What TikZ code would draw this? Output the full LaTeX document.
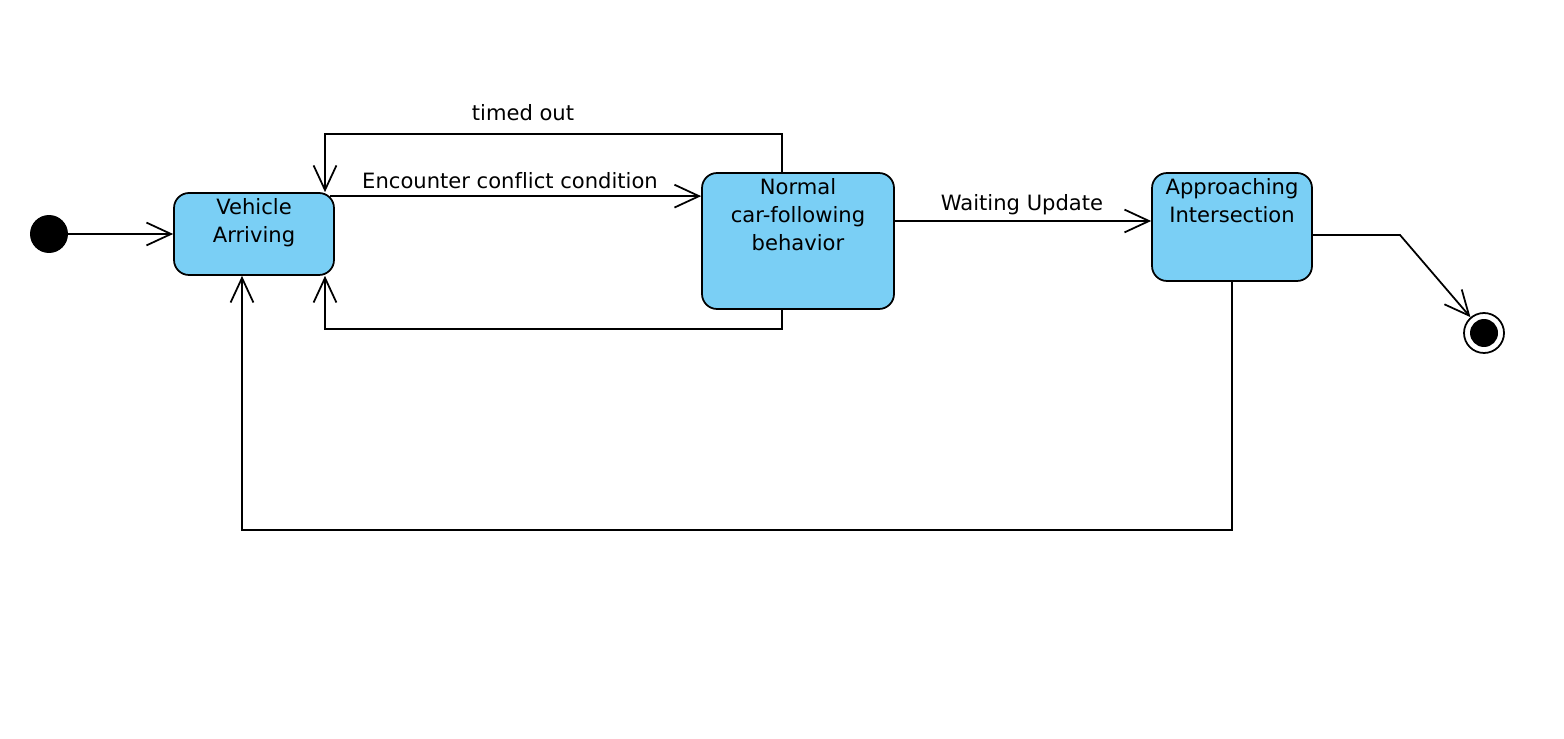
\documentclass[tikz,border=0pt]{standalone}
\usepackage{fontspec}
\setmainfont{DejaVu Sans}[Ligatures=NoCommon]
\usetikzlibrary{arrows.meta}

\definecolor{stfill}{RGB}{122,207,245}
\tikzset{
  state/.style={draw,line width=1pt,fill=stfill,rounded corners=0.3cm,inner sep=0pt},
  stname/.style={anchor=north,align=center,inner sep=0pt,yshift=-0.12cm},
  trans/.style={draw,line width=1pt,-{Straight Barb[length=14pt,width=13pt]}},
}

\begin{document}
\begin{tikzpicture}[x=0.02cm,y=-0.02cm,every node/.style={font=\fontsize{12}{16}\selectfont}]
\useasboundingbox (0,0) rectangle (1564,739);
% states
\node[state,minimum width=3.2cm,minimum height=1.64cm] (va) at (254,234) {};
\node[state,minimum width=3.84cm,minimum height=2.72cm] (nc) at (798,241) {};
\node[state,minimum width=3.2cm,minimum height=2.16cm] (ai) at (1232,227) {};
\node[stname] (va-t) at (va.north) {Vehicle\\Arriving};
\node[stname] (nc-t) at (nc.north) {Normal\\car-following\\behavior};
\node[stname] (ai-t) at (ai.north) {Approaching\\Intersection};
% start and end
\node[circle,fill=black,minimum size=0.76cm,inner sep=0pt] (ini) at (49,234) {};
\node[circle,draw,line width=1pt,minimum size=0.8cm,inner sep=0pt] (fin) at (1484,333) {};
\fill (fin) circle (0.28cm);
% bend points
\coordinate (to1) at (782,134);
\coordinate (to2) at (325,134);
\coordinate (bl1) at (782,329);
\coordinate (bl2) at (325,329);
\coordinate (wu) at (1022,221);
\coordinate (fb) at (1400,235);
\coordinate (lp1) at (1232,530);
\coordinate (lp2) at (242,530);
\coordinate (encs) at ([shift={(-5,4)}]va.north east);
% transitions
\draw[trans] (ini) -- (va);
\draw[trans] (nc.north -| to1) -- (to1) -- (to2) -- (va.north -| to2);
\draw[trans] (encs) -- (encs -| nc.west);
\draw[trans] (nc.south -| bl1) -- (bl1) -- (bl2) -- (va.south -| bl2);
\draw[trans] (nc.east |- wu) -- (ai.west |- wu);
\draw[trans] (ai.east |- fb) -- (fb) -- (fin);
\draw[trans] (ai.south -| lp1) -- (lp1) -- (lp2) -- (va.south -| lp2);
% labels
\node (l-to) at (523,113) {timed out};
\node (l-enc) at (510,181) {Encounter conflict condition};
\node (l-wu) at (1022,205) {Waiting Update};
\end{tikzpicture}
\end{document}
